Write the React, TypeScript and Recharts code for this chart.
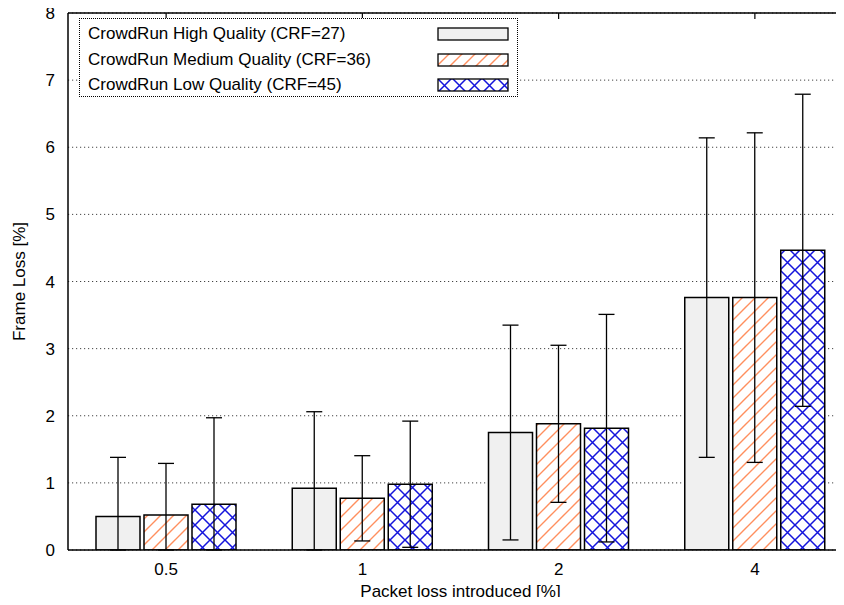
import React from "react";
import {
  BarChart,
  Bar,
  XAxis,
  YAxis,
  CartesianGrid,
  ErrorBar,
  Legend,
  ReferenceLine,
} from "recharts";

const categories = ["0.5", "1", "2", "4"];
const yTicks = [0, 1, 2, 3, 4, 5, 6, 7, 8];

const highQuality = [0.5, 0.92, 1.75, 3.76];
const highQualityErr = [0.88, 1.14, 1.6, 2.38];
const mediumQuality = [0.52, 0.77, 1.88, 3.76];
const mediumQualityErr = [0.77, 0.635, 1.17, 2.455];
const lowQuality = [0.68, 0.98, 1.815, 4.465];
const lowQualityErr = [1.29, 0.94, 1.695, 2.325];

// error bars are clipped at 0 like in the original plot
const clipErr = (v: number, e: number) => [Math.min(e, v), e];

const data = categories.map((c, i) => ({
  loss: c,
  high: highQuality[i],
  highErr: clipErr(highQuality[i], highQualityErr[i]),
  medium: mediumQuality[i],
  mediumErr: clipErr(mediumQuality[i], mediumQualityErr[i]),
  low: lowQuality[i],
  lowErr: clipErr(lowQuality[i], lowQualityErr[i]),
}));

const series = [
  { key: "high", name: "CrowdRun High Quality (CRF=27)", fill: "#f0f0f0" },
  { key: "medium", name: "CrowdRun Medium Quality (CRF=36)", fill: "url(#hatchOrange)" },
  { key: "low", name: "CrowdRun Low Quality (CRF=45)", fill: "url(#crossBlue)" },
];

const FONT = "'Liberation Sans', Arial, Helvetica, sans-serif";

function LegendBox() {
  return (
    <div
      style={{
        boxSizing: "border-box",
        width: 439,
        height: 79,
        border: "1px dotted #000",
        background: "#fff",
        paddingTop: 2,
        paddingLeft: 8,
        fontFamily: FONT,
        fontSize: 17,
        color: "#000",
      }}
    >
      {series.map((s) => (
        <div key={s.key} style={{ position: "relative", height: 25.5, lineHeight: "25.5px", whiteSpace: "nowrap" }}>
          {s.name}
          <svg width={72} height={14} style={{ position: "absolute", left: 349, top: 6 }}>
            <rect x={1} y={1} width={70} height={12} fill={s.fill} stroke="#000" strokeWidth={1.3} />
          </svg>
        </div>
      ))}
    </div>
  );
}

export default function App() {
  return (
    <div style={{ margin: -8, width: 844, height: 605, overflow: "hidden", background: "#fff" }}>
      <BarChart
        width={880}
        height={605}
        data={data}
        margin={{ top: 13, right: 27, bottom: 0, left: 0 }}
        barSize={44}
        barGap={4}
      >
        <defs>
          <pattern id="hatchOrange" patternUnits="userSpaceOnUse" width={13} height={13}>
            <rect width={13} height={13} fill="#fff" />
            <path d="M0,13 L13,0 M-3,3 L3,-3 M10,16 L16,10" stroke="#ff8f5e" strokeWidth={1.4} />
          </pattern>
          <pattern id="crossBlue" patternUnits="userSpaceOnUse" width={15} height={15}>
            <rect width={15} height={15} fill="#fff" />
            <path d="M0,0 L15,15 M0,15 L15,0" stroke="#1414dc" strokeWidth={1.5} />
          </pattern>
        </defs>
        <CartesianGrid vertical={false} stroke="#444" strokeDasharray="1.2 2.8" />
        <XAxis
          dataKey="loss"
          height={55}
          axisLine={{ stroke: "#000", strokeWidth: 1.5 }}
          tickLine={false}
          tickSize={6}
          tickMargin={7}
          tick={{ fill: "#000", fontSize: 17, fontFamily: FONT }}
          label={{
            content: () => (
              <text x={460.5} y={597} textAnchor="middle" fill="#000" fontSize={17} fontFamily={FONT}>
                Packet loss introduced [%]
              </text>
            ),
          }}
        />
        <YAxis
          width={68}
          domain={[0, 8]}
          ticks={yTicks}
          allowDataOverflow
          axisLine={{ stroke: "#000", strokeWidth: 1.5 }}
          tickLine={false}
          tickSize={6}
          tickMargin={7}
          tick={{ fill: "#000", fontSize: 17, fontFamily: FONT }}
          label={{
            content: () => (
              <text
                x={25}
                y={281.5}
                transform="rotate(-90 25 281.5)"
                textAnchor="middle"
                fill="#000"
                fontSize={17}
                fontFamily={FONT}
              >
                Frame Loss [%]
              </text>
            ),
          }}
        />
        <ReferenceLine y={8} stroke="#000" strokeWidth={1.5} />
        {categories.map((c) => (
          <ReferenceLine
            key={`top-${c}`}
            segment={[
              { x: c, y: 8 },
              { x: c, y: 7.91 },
            ]}
            stroke="#000"
            strokeWidth={1.2}
          />
        ))}
        <Legend
          layout="vertical"
          align="center"
          verticalAlign="middle"
          wrapperStyle={{ top: 18, left: 79, width: 439, height: 79 }}
          content={() => <LegendBox />}
        />
        {series.map((s) => (
          <Bar
            key={s.key}
            dataKey={s.key}
            name={s.name}
            fill={s.fill}
            stroke="#000"
            strokeWidth={1.5}
            isAnimationActive={false}
          >
            <ErrorBar dataKey={`${s.key}Err`} width={8} stroke="#000" strokeWidth={1.3} />
          </Bar>
        ))}
      </BarChart>
    </div>
  );
}
